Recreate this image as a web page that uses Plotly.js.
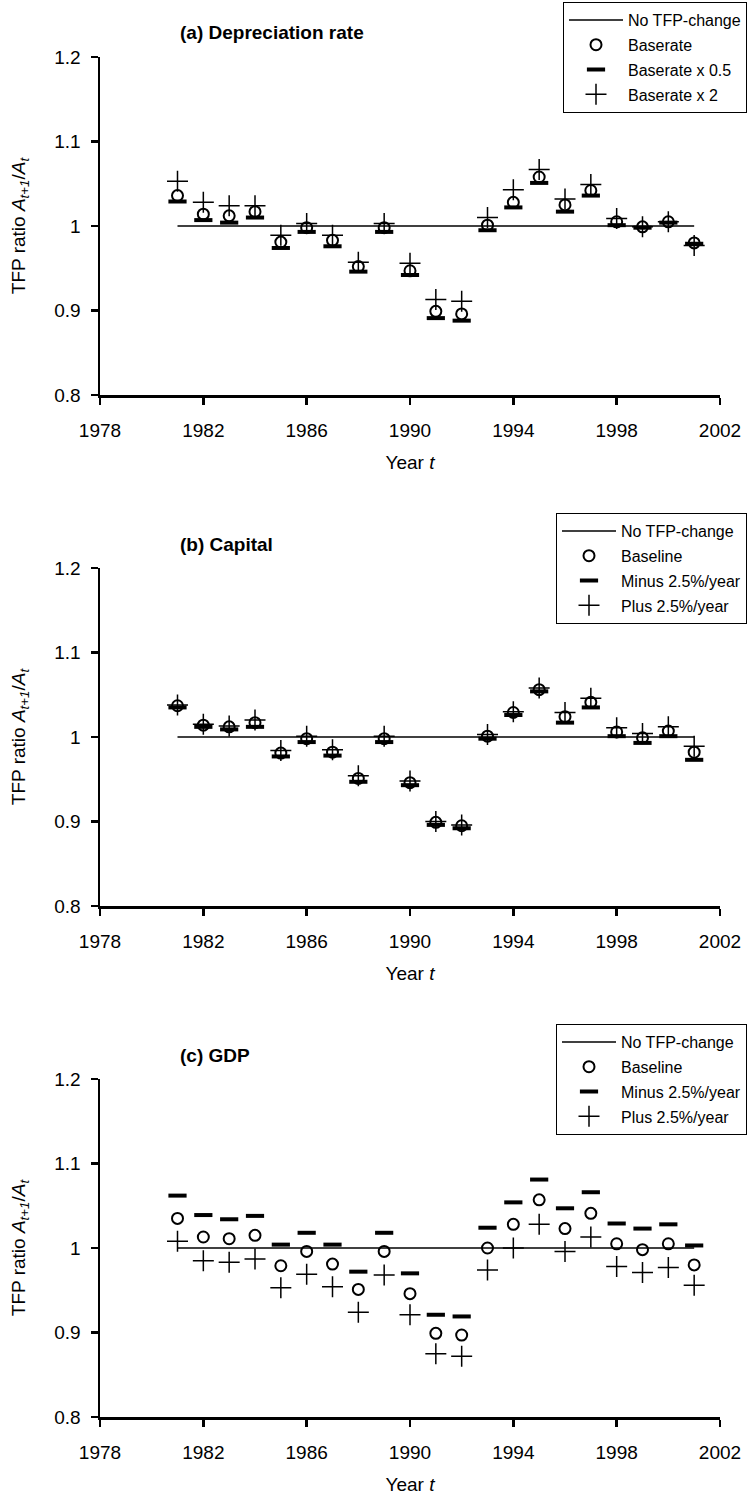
<!DOCTYPE html>
<html><head><meta charset="utf-8">
<script src="https://cdn.plot.ly/plotly-3.0.1.min.js"></script>
<style>body{margin:0;background:#fff}#chart{width:751px;height:1506px}</style>
</head><body><div id="chart"></div>
<script>
const years = [1981,1982,1983,1984,1985,1986,1987,1988,1989,1990,1991,1992,1993,1994,1995,1996,1997,1998,1999,2000,2001];
const lineYears = [1981, 2001];
const noChange = [1, 1];

const panelTitles = ['(a) Depreciation rate', '(b) Capital', '(c) GDP'];
const namesA = ['Baserate', 'Baserate x 0.5', 'Baserate x 2'];
const namesBC = ['Baseline', 'Minus 2.5%/year', 'Plus 2.5%/year'];
const lineName = 'No TFP-change';

// (a) Depreciation rate
const aBase   = [1.036,1.014,1.012,1.017,0.981,0.998,0.983,0.952,0.998,0.947,0.899,0.896,1.001,1.028,1.058,1.025,1.042,1.005,0.999,1.005,0.980];
const aHalf   = [1.029,1.007,1.004,1.010,0.974,0.993,0.976,0.946,0.993,0.942,0.891,0.888,0.995,1.022,1.051,1.017,1.036,1.001,0.998,1.004,0.979];
const aDouble = [1.053,1.028,1.024,1.024,0.989,1.003,0.989,0.957,1.003,0.956,0.913,0.911,1.010,1.043,1.067,1.032,1.049,1.009,0.999,1.005,0.977];

// (b) Capital
const bBase  = [1.037,1.014,1.012,1.017,0.981,0.998,0.982,0.951,0.998,0.946,0.899,0.895,1.001,1.029,1.056,1.024,1.041,1.006,0.999,1.007,0.982];
const bMinus = [1.035,1.012,1.009,1.012,0.977,0.994,0.978,0.947,0.994,0.943,0.896,0.892,0.998,1.026,1.054,1.017,1.035,1.001,0.993,1.001,0.973];
const bPlus  = [1.038,1.015,1.013,1.020,0.984,1.001,0.985,0.954,1.001,0.948,0.900,0.896,1.003,1.030,1.058,1.029,1.046,1.011,1.004,1.012,0.989];

// (c) GDP
const cBase  = [1.035,1.013,1.011,1.015,0.979,0.996,0.981,0.951,0.996,0.946,0.899,0.897,1.000,1.028,1.057,1.023,1.041,1.005,0.998,1.005,0.980];
const cMinus = [1.062,1.039,1.034,1.038,1.004,1.018,1.004,0.972,1.018,0.970,0.921,0.919,1.024,1.054,1.081,1.047,1.066,1.029,1.023,1.028,1.003];
const cPlus  = [1.008,0.985,0.983,0.987,0.953,0.969,0.954,0.924,0.968,0.921,0.875,0.872,0.974,1.000,1.028,0.996,1.013,0.978,0.971,0.977,0.956];

const xTicks = [1978,1982,1986,1990,1994,1998,2002];
const yTicks = [0.8,0.9,1,1.1,1.2];
const yTickText = ['0.8','0.9','1','1.1','1.2'];

const W = 751, H = 1506;
const legTops = [2, 513, 1024];
const tops = legTops.map(v => v + 55);
const bottoms = tops.map(v => v + 338);
const FONT = 'Liberation Sans, Arial, sans-serif';

const panels = [
  {names: namesA, s: [aBase, aHalf, aDouble]},
  {names: namesBC, s: [bBase, bMinus, bPlus]},
  {names: namesBC, s: [cBase, cMinus, cPlus]}
];

const traces = [];
const layout = {
  width: W, height: H,
  margin: {l: 0, r: 0, t: 0, b: 0},
  paper_bgcolor: '#fff', plot_bgcolor: '#fff',
  font: {family: FONT, color: '#000', size: 19},
  annotations: []
};

panels.forEach((p, i) => {
  const k = i === 0 ? '' : String(i + 1);
  const xa = 'x' + k, ya = 'y' + k;
  const leg = 'legend' + k;
  traces.push({
    x: lineYears, y: noChange, xaxis: xa, yaxis: ya, type: 'scatter', mode: 'lines',
    name: lineName, legend: leg, legendgroup: 'g' + i + 'l',
    line: {color: '#000', width: 1.5}, hoverinfo: 'skip'
  });
  traces.push({
    x: years, y: p.s[0], xaxis: xa, yaxis: ya, type: 'scatter', mode: 'markers',
    name: p.names[0], legend: leg, legendgroup: 'g' + i + 'a',
    marker: {symbol: 'circle-open', size: 11, color: '#000', line: {color: '#000', width: 2}}
  });
  traces.push({
    x: years, y: p.s[1], xaxis: xa, yaxis: ya, type: 'scatter', mode: 'markers',
    name: p.names[1], legend: leg, legendgroup: 'g' + i + 'b',
    marker: {symbol: 'line-ew', size: 13, color: '#000', line: {color: '#000', width: 4}}
  });
  traces.push({
    x: years, y: p.s[2], xaxis: xa, yaxis: ya, type: 'scatter', mode: 'markers',
    name: p.names[2], legend: leg, legendgroup: 'g' + i + 'c',
    marker: {symbol: 'cross-thin', size: 15, color: '#000', line: {color: '#000', width: 1.5}}
  });

  const yd = [1 - bottoms[i] / H, 1 - tops[i] / H];
  layout['xaxis' + k] = {
    domain: [100 / W, 720 / W], anchor: ya, range: [1978, 2002],
    tickmode: 'array', tickvals: xTicks, ticktext: xTicks.map(String),
    showline: true, linecolor: '#000', linewidth: 2.5, ticks: 'outside', ticklen: 7, tickwidth: 2.5,
    tickcolor: '#000', showgrid: false, zeroline: false, tickfont: {size: 19},
    ticklabelstandoff: 10,
    title: {text: 'Year <i>t</i>', font: {size: 19}, standoff: 16}
  };
  layout['yaxis' + k] = {
    domain: yd, anchor: xa, range: [0.8, 1.2],
    tickmode: 'array', tickvals: yTicks, ticktext: yTickText,
    showline: true, linecolor: '#000', linewidth: 2.5, ticks: 'outside', ticklen: 7, tickwidth: 2.5,
    tickcolor: '#000', showgrid: false, zeroline: false, tickfont: {size: 19},
    ticklabelstandoff: 6,
    title: {text: 'TFP ratio <i>A<sub>t+1</sub></i>/<i>A<sub>t</sub></i>', font: {size: 19}, standoff: 24}
  };
  layout[leg] = {
    x: 747 / W, y: 1 - legTops[i] / H, xanchor: 'right', yanchor: 'top',
    bgcolor: '#fff', bordercolor: '#000', borderwidth: 1,
    font: {size: 16, family: FONT}, tracegroupgap: 1, itemwidth: 54
  };
  layout.annotations.push({
    xref: 'paper', yref: 'paper', x: 178 / W, y: 1 - (tops[i] - 24) / H,
    xanchor: 'left', yanchor: 'middle', showarrow: false,
    text: '<b>' + panelTitles[i] + '</b>', font: {size: 19, family: FONT}
  });
});

Plotly.newPlot('chart', traces, layout, {staticPlot: true, displayModeBar: false});
</script></body></html>
